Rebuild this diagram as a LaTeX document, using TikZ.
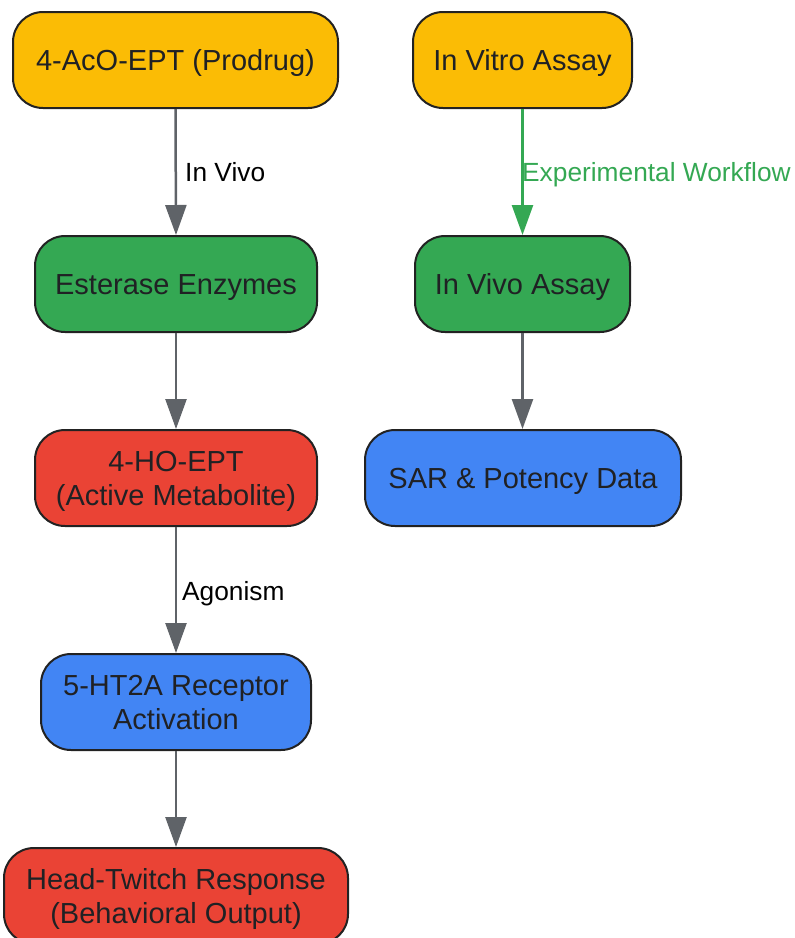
\documentclass[tikz,border=0pt]{standalone}
\usepackage{fontspec}
\setmainfont{Liberation Sans}
\usetikzlibrary{arrows.meta}
\definecolor{cOrange}{HTML}{FBBC05}
\definecolor{cGreen}{HTML}{34A853}
\definecolor{cRed}{HTML}{EA4335}
\definecolor{cBlue}{HTML}{4285F4}
\definecolor{cEdge}{HTML}{5F6368}
\definecolor{cBorder}{HTML}{222222}
\definecolor{cText}{HTML}{202124}
\newcommand\lnstrut{\rule[-6.6pt]{0pt}{34pt}}
\tikzset{
  box/.style={draw=cBorder, line width=2pt, rounded corners=30pt, minimum height=96pt,
    inner sep=0pt, align=center, text=cText,
    font=\fontsize{29pt}{34pt}\selectfont},
  conn/.style={draw=cEdge, line width=2.5pt, -{Triangle[length=30pt,width=21pt]}},
  gconn/.style={draw=cGreen, line width=2.5pt, -{Triangle[length=30pt,width=21pt]}},
  elabel/.style={font=\fontsize{26.3pt}{30pt}\selectfont, text=black, inner sep=0pt, anchor=base west},
}
\begin{document}
\begin{tikzpicture}[x=1pt,y=-1pt]
\useasboundingbox (0,0) rectangle (795,938);
\node[box, fill=cOrange, minimum width=325pt] (n1) at (175.5,60) {\lnstrut 4-AcO-EPT (Prodrug)};
\node[box, fill=cOrange, minimum width=219pt] (n2) at (522.5,60) {\lnstrut In Vitro Assay};
\node[box, fill=cGreen, minimum width=282pt] (n3) at (176,284) {\lnstrut Esterase Enzymes};
\node[box, fill=cGreen, minimum width=215pt] (n4) at (522.5,284) {\lnstrut In Vivo Assay};
\node[box, fill=cRed, minimum width=282pt] (n5) at (176,478) {\lnstrut 4-HO-EPT\\\lnstrut (Active Metabolite)};
\node[box, fill=cBlue, minimum width=316pt] (n6) at (523,478) {\lnstrut SAR \& Potency Data};
\node[box, fill=cBlue, minimum width=270pt] (n7) at (176,702) {\lnstrut 5-HT2A Receptor\\\lnstrut Activation};
\node[box, fill=cRed, minimum width=344pt] (n8) at (176,896) {\lnstrut Head-Twitch Response\\\lnstrut (Behavioral Output)};
\draw[conn] (n1.south) -- (n3.north);
\node[elabel] (l1) at (185,181) {In Vivo};
\draw[conn] (n3.south) -- (n5.north);
\draw[conn] (n5.south) -- (n7.north);
\node[elabel] (l2) at (182,600) {Agonism};
\draw[conn] (n7.south) -- (n8.north);
\draw[gconn] (n2.south) -- (n4.north);
\node[elabel, text=cGreen] (l3) at (522,181) {Experimental Workflow};
\draw[conn] (n4.south) -- (n6.north -| n4.south);
\end{tikzpicture}
\end{document}
